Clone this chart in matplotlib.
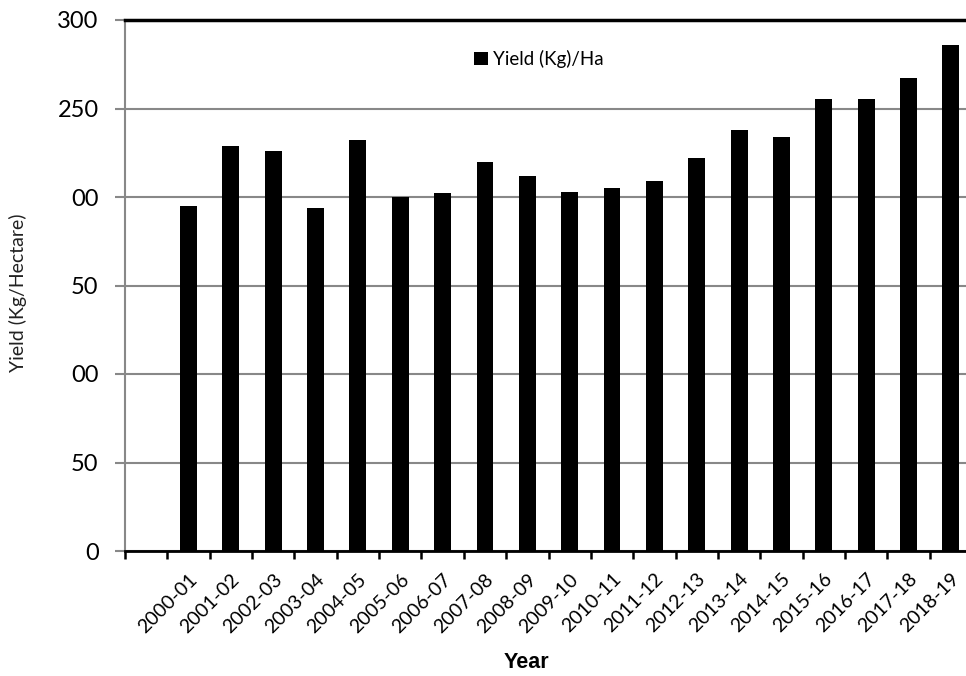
import numpy as np
import matplotlib
matplotlib.use("Agg")
import matplotlib.pyplot as plt

# data
years = ["2000-01", "2001-02", "2002-03", "2003-04", "2004-05", "2005-06",
         "2006-07", "2007-08", "2008-09", "2009-10", "2010-11", "2011-12",
         "2012-13", "2013-14", "2014-15", "2015-16", "2016-17", "2017-18",
         "2018-19"]
yield_kg_ha = [195, 229, 226, 194, 232, 200, 202, 220, 212, 203, 205, 209,
               222, 238, 234, 255.5, 255.5, 267, 286]

# y tick labels as they appear in the source (left digits clipped)
ytick_vals = [0, 50, 100, 150, 200, 250, 300]
ytick_text = ["0", "50", "00", "50", "00", "250", "300"]

W, H = 966, 676
fig = plt.figure(figsize=(W / 100, H / 100), dpi=100)
# plot area runs past the right edge of the picture, as in the source
left, right, top, bottom = 125, 972, 20, 551
ax = fig.add_axes([left / W, 1 - bottom / H, (right - left) / W, (bottom - top) / H])

# first slot is empty, bars sit in slots 1..19
x = np.arange(len(years)) + 1
ax.bar(x, yield_kg_ha, width=0.4, color="black", zorder=3, label="Yield (Kg)/Ha")

ax.set_xlim(-0.5, len(years) + 0.5)
ax.set_ylim(0, 300)

ax.set_yticks(ytick_vals)
ax.set_yticklabels(ytick_text, family="Lato", fontsize=17)
ax.yaxis.grid(True, color="#888888", linewidth=1.5, zorder=0)
ax.tick_params(axis="y", length=7, width=1.5, color="#888888", pad=12)

ax.set_xticks(x)
ax.set_xticklabels(years, rotation=45, ha="right", rotation_mode="anchor",
                   family="Lato", fontsize=14)
ax.tick_params(axis="x", which="major", length=0, pad=14)
ax.set_xticks(np.arange(len(years) + 1) - 0.5, minor=True)
ax.tick_params(axis="x", which="minor", length=6, width=1.8, color="black")

ax.spines["right"].set_visible(False)
ax.spines["top"].set_color("black")
ax.spines["top"].set_linewidth(2.5)
ax.spines["left"].set_color("#888888")
ax.spines["left"].set_linewidth(1.5)
ax.spines["bottom"].set_color("black")
ax.spines["bottom"].set_linewidth(2)

fig.text(18 / W, 1 - 293 / H, "Yield (Kg/Hectare)", rotation=90, ha="center",
         va="center", family="Lato", fontsize=14, color="#222222")
fig.text(526 / W, 1 - 662 / H, "Year", ha="center", va="center",
         family="Liberation Sans", fontweight="bold", fontsize=15.5)

ax.legend(loc="center left", bbox_to_anchor=(465 / W, 1 - 59 / H),
          bbox_transform=fig.transFigure, frameon=False,
          prop={"family": "Lato", "size": 13.5}, handlelength=0.7,
          handleheight=0.7, handletextpad=0.3, borderpad=0)

fig.savefig("out.png", dpi=100)
